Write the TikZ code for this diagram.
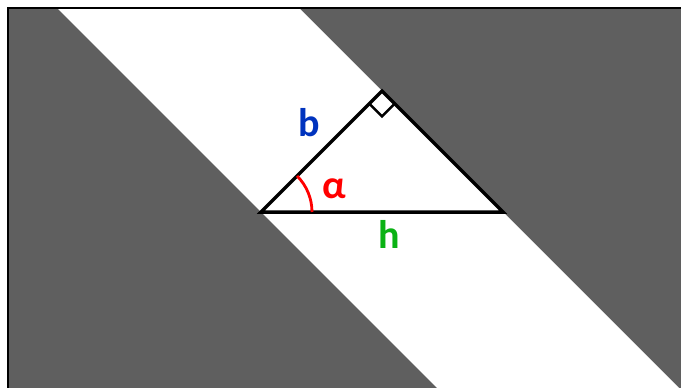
\documentclass[tikz,border=0pt]{standalone}
\usepackage{fontspec}
\setmainfont{Carlito}
\usetikzlibrary{calc}
\definecolor{bggray}{RGB}{95,95,95}
\definecolor{lblblue}{RGB}{0,51,190}
\definecolor{lblred}{RGB}{255,0,0}
\definecolor{lblgreen}{RGB}{10,178,20}
\begin{document}
\begin{tikzpicture}[x=1pt,y=-1pt,
  lbl/.style={font=\fontsize{40}{46}\selectfont\bfseries, inner sep=0pt},
  leg/.style={line width=3.5pt, line join=miter},
  mark90/.style={line width=2.5pt},
  anglearc/.style={lblred, line width=2.8pt}]
\useasboundingbox (0,0) rectangle (681,388);
\clip (0,0) rectangle (681,388);
% background and strip
\fill[bggray] (8,8) rectangle (700,400);
\fill[white] (57,8) -- (299,8) -- (699,408) -- (457,408) -- cycle;
\draw[line width=2pt] (8,400) -- (8,8) -- (700,8);
% triangle
\coordinate (A) at (261,212);
\coordinate (B) at (503,212);
\coordinate (C) at (382,91);
\draw[leg] (A) -- (B) -- (C) -- cycle;
% right-angle mark
\coordinate (S1) at ($(C)+(-12.7,12.7)$);
\coordinate (S2) at ($(C)+(0,25.4)$);
\coordinate (S3) at ($(C)+(12.7,12.7)$);
\draw[mark90] (S1) -- (S2) -- (S3);
% angle arc
\draw[anglearc] (A) ++(51,0) arc[start angle=0, end angle=-45, radius=51];
% labels
\node[lbl, text=lblblue] (lb) at (309,123) {b};
\node[lbl, text=lblred] (la) at (334,189) {α};
\node[lbl, text=lblgreen] (lh) at (389,234) {h};
\end{tikzpicture}
\end{document}
